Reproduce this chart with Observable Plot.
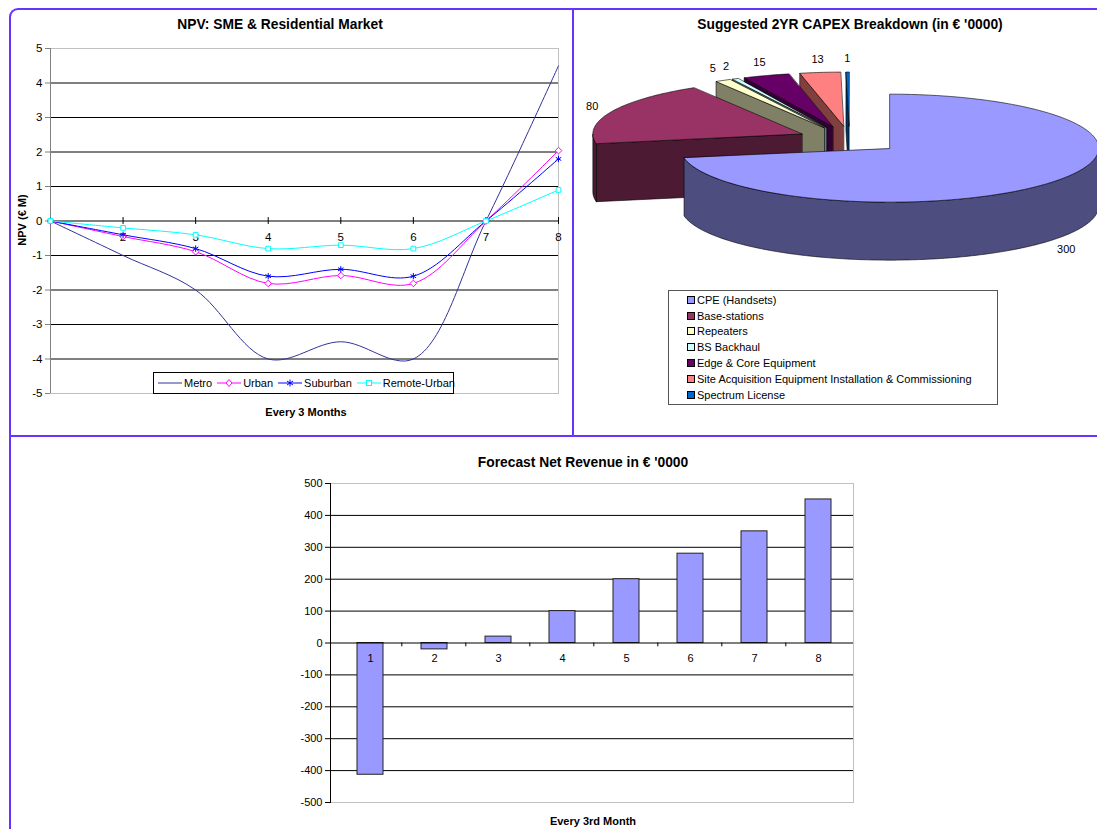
<!DOCTYPE html>
<html>
<head>
<meta charset="utf-8">
<script src="https://cdn.jsdelivr.net/npm/d3@7"></script>
<script src="https://cdn.jsdelivr.net/npm/@observablehq/plot@0.6"></script>
<style>
  html, body { margin: 0; padding: 0; background: #fff; }
  #root { position: relative; width: 1097px; height: 829px; overflow: hidden; background: #fff;
          font-family: "Liberation Sans", Arial, sans-serif; color: #000; }
  .abs { position: absolute; }
  .title { position: absolute; text-align: center; font-weight: bold; font-size: 13.8px; line-height: 16px; white-space: nowrap; }
  .axtitle { position: absolute; text-align: center; font-weight: bold; font-size: 11px; line-height: 14px; white-space: nowrap; }
  .legend1 { position: absolute; border: 1px solid #000; background: #fff; display: flex; align-items: center;
             font-size: 11px; box-sizing: border-box; padding-left: 4px; white-space: nowrap; }
  .legend1 .item { display: flex; align-items: center; margin-right: 5px; }
  .legend2 { position: absolute; border: 1px solid #555; background: #fff; box-sizing: border-box; font-size: 11px; padding-top: 1px; }
  .legend2 .row { display: flex; align-items: center; height: 15.8px; padding-left: 18px; }
  .legend2 .sw { width: 6px; height: 6px; border: 1px solid #000; margin-right: 2px; }
</style>
</head>
<body>
<div id="root">
  <div class="abs" style="left:9px;top:8px;width:1100px;height:830px;border-left:2px solid #6633ff;border-top:2px solid #6633ff;border-top-left-radius:9px;box-sizing:border-box;"></div>
  <div class="abs" style="left:572px;top:9px;width:2px;height:428px;background:#6633ff;"></div>
  <div class="abs" style="left:10px;top:435px;width:1090px;height:2px;background:#6633ff;"></div>

  <div class="title" style="left:130px;top:17px;width:300px;">NPV: SME &amp; Residential Market</div>
  <div class="title" style="left:650px;top:17px;width:400px;">Suggested 2YR CAPEX Breakdown (in € '0000)</div>
  <div class="title" style="left:433px;top:455px;width:300px;">Forecast Net Revenue in € '0000</div>
  <div class="axtitle" style="left:206px;top:405px;width:200px;">Every 3 Months</div>
  <div class="axtitle" style="left:493px;top:814px;width:200px;">Every 3rd Month</div>
  <div class="axtitle" style="left:-28px;top:213px;width:100px;transform:rotate(-90deg);">NPV (€ M)</div>

  <div id="npv" class="abs" style="left:0px;top:40px;"></div>
  <div id="pie" class="abs" style="left:575px;top:40px;"></div>
  <div id="bars" class="abs" style="left:270px;top:470px;"></div>
  <div id="legend1" class="legend1" style="left:153px;top:372px;width:301px;height:22px;"></div>
  <div id="legend2" class="legend2" style="left:668px;top:290px;width:330px;height:115px;"></div>
</div>
<script>
// ---------------- DATA ----------------
// NPV chart
const periods = [1, 2, 3, 4, 5, 6, 7, 8];
const seriesNames = ["Metro", "Urban", "Suburban", "Remote-Urban"];
const metro = [0, -1, -2, -4, -3.5, -4, 0, 4.5];
const urban = [0, -0.45, -0.89, -1.81, -1.58, -1.81, 0, 2.04];
const suburban = [0, -0.4, -0.8, -1.6, -1.4, -1.6, 0, 1.8];
const remoteUrban = [0, -0.2, -0.4, -0.8, -0.7, -0.8, 0, 0.9];
const npvTicks = [-5, -4, -3, -2, -1, 0, 1, 2, 3, 4, 5];

// CAPEX pie
const capexLabels = ["CPE (Handsets)", "Base-stations", "Repeaters", "BS Backhaul",
  "Edge & Core Equipment", "Site Acquisition Equipment Installation & Commissioning", "Spectrum License"];
const capexValues = [300, 80, 5, 2, 15, 13, 1];

// Net revenue bars
const revenuePeriods = ["1", "2", "3", "4", "5", "6", "7", "8"];
const netRevenue = [-413, -20, 20, 100, 200, 280, 350, 450];
const revenueTicks = [-500, -400, -300, -200, -100, 0, 100, 200, 300, 400, 500];

// ---------------- STYLES ----------------
const font = "'Liberation Sans', Arial, sans-serif";
const seriesStyle = {
  "Metro": {stroke: "#333399", symbol: null},
  "Urban": {stroke: "#ff00ff", symbol: "diamond2", fill: "#fff"},
  "Suburban": {stroke: "#0000ff", symbol: "asterisk", fill: "none"},
  "Remote-Urban": {stroke: "#00ffff", symbol: "square2", fill: "#fff"}
};
const capexColors = ["#9999ff", "#993366", "#ffffcc", "#ccffff", "#660066", "#ff8080", "#0066cc"];

// ---------------- NPV LINE CHART ----------------
const npvSeries = [metro, urban, suburban, remoteUrban];
const npvRows = [];
seriesNames.forEach((s, k) => periods.forEach((p, i) => npvRows.push({series: s, x: p, y: npvSeries[k][i]})));

const npvMarks = [
  Plot.frame({stroke: "#c0c0c0"}),
  Plot.ruleY(npvTicks.filter(v => v > -5 && v < 5 && v !== 0), {stroke: "#000", strokeWidth: 1}),
  Plot.ruleY([0], {stroke: "#000", strokeWidth: 1.2}),
  Plot.ruleX(periods.slice(1), {x: d => d, y1: -0.1, y2: 0.1, stroke: "#000"}),
  Plot.text(periods.slice(1), {x: d => d, y: 0, dy: 16, text: d => String(d), fontSize: 11.5}),
  Plot.ruleX([periods[0]], {stroke: "#808080"}),
  Plot.axisY({ticks: npvTicks, tickFormat: d => String(d), tickSize: 5, tickPadding: 3, fontSize: 11.5, label: null, stroke: "#808080"})
];
seriesNames.forEach(s => {
  const st = seriesStyle[s];
  const rows = npvRows.filter(r => r.series === s);
  npvMarks.push(Plot.line(rows, {x: "x", y: "y", stroke: st.stroke, strokeWidth: 1, curve: "catmull-rom"}));
});
seriesNames.forEach(s => {
  const st = seriesStyle[s];
  if (!st.symbol) return;
  const rows = npvRows.filter(r => r.series === s);
  npvMarks.push(Plot.dot(rows, {x: "x", y: "y", symbol: st.symbol, r: 3, stroke: st.stroke, fill: st.fill, strokeWidth: 1}));
});

const npvPlot = Plot.plot({
  width: 570, height: 380,
  marginTop: 8, marginBottom: 27, marginLeft: 50, marginRight: 12,
  x: {domain: [periods[0], periods[periods.length - 1]], axis: null},
  y: {domain: [-5, 5], axis: null},
  style: {fontFamily: font, fontSize: "11.5px", background: "transparent", color: "#000"},
  marks: npvMarks
});
document.getElementById("npv").append(npvPlot);

// legend 1
const leg1 = document.getElementById("legend1");
const symPaths = {
  "diamond2": '<path d="M12,1.5 L15,5 L12,8.5 L9,5 Z" fill="#fff" stroke="COLOR"/>',
  "asterisk": '<path d="M12,1.5 L12,8.5 M9,3 L15,7 M15,3 L9,7" stroke="COLOR"/>',
  "square2": '<rect x="9.5" y="2.5" width="5" height="5" fill="#fff" stroke="COLOR"/>'
};
seriesNames.forEach(s => {
  const st = seriesStyle[s];
  const sym = st.symbol ? symPaths[st.symbol].replace(/COLOR/g, st.stroke) : "";
  const item = document.createElement("div");
  item.className = "item";
  item.innerHTML = `<svg width="24" height="10" style="margin-right:2px"><line x1="0" x2="24" y1="5" y2="5" stroke="${st.stroke}" stroke-width="1"/>${sym}</svg><span>${s}</span>`;
  leg1.append(item);
});

// ---------------- CAPEX 3D PIE ----------------
const pieBox = {width: 522, height: 245, cx: 274, cy: 99, rx: 209, ry: 54, depth: 58, explode: 0.25};
const H = pieBox.depth / pieBox.ry;
const arcs = d3.pie().sort(null).value(d => d)(capexValues);
const slices = arcs.map((a, i) => {
  const m = (a.startAngle + a.endAngle) / 2;
  return {i, a0: a.startAngle, a1: a.endAngle, m, value: a.data,
          ox: pieBox.explode * Math.sin(m), oy: pieBox.explode * Math.cos(m)};
});
function rim(s, t, dz) { return {x: s.ox + Math.sin(t), y: s.oy + Math.cos(t) - dz}; }
function arcPts(s, a, b, dz) {
  const n = Math.max(2, Math.ceil((b - a) / (Math.PI / 180)) + 1);
  return d3.range(n).map(k => rim(s, a + (b - a) * k / (n - 1), dz));
}
function darker(c) { const r = d3.rgb(c); return d3.rgb(r.r * 0.5, r.g * 0.5, r.b * 0.5).formatHex(); }
const polys = [];
slices.slice().sort((p, q) => q.oy - p.oy).forEach(s => {
  const col = capexColors[s.i], side = darker(col);
  const ctop = {x: s.ox, y: s.oy}, cbot = {x: s.ox, y: s.oy - H};
  if (Math.sin(s.a0) < -1e-6) polys.push({fill: side, pts: [ctop, rim(s, s.a0, 0), rim(s, s.a0, H), cbot]});
  if (Math.sin(s.a1) > 1e-6) polys.push({fill: side, pts: [ctop, rim(s, s.a1, 0), rim(s, s.a1, H), cbot]});
  const b0 = Math.max(s.a0, Math.PI / 2), b1 = Math.min(s.a1, 3 * Math.PI / 2);
  if (b1 > b0) polys.push({fill: side, pts: [...arcPts(s, b0, b1, 0), ...arcPts(s, b0, b1, H).reverse()]});
  polys.push({fill: col, pts: [ctop, ...arcPts(s, s.a0, s.a1, 0)]});
});
const pieLabels = slices.map(s => ({
  text: String(s.value),
  x: s.ox + 1.1 * Math.sin(s.m),
  y: s.oy + 1.25 * Math.cos(s.m) - (Math.cos(s.m) < 0 ? H : 0)
}));
const piePlot = Plot.plot({
  width: pieBox.width, height: pieBox.height,
  margin: 0,
  x: {domain: [-pieBox.cx / pieBox.rx, (pieBox.width - pieBox.cx) / pieBox.rx], range: [0, pieBox.width], axis: null},
  y: {domain: [(pieBox.cy - pieBox.height) / pieBox.ry, pieBox.cy / pieBox.ry], range: [pieBox.height, 0], axis: null},
  style: {fontFamily: font, fontSize: "11px", background: "transparent", color: "#000", overflow: "visible"},
  marks: [
    ...polys.map(p => Plot.line(p.pts, {x: "x", y: "y", fill: p.fill, stroke: "#000", strokeWidth: 0.7, strokeOpacity: 0.85, curve: "linear-closed", strokeLinejoin: "round"})),
    Plot.text(pieLabels, {x: "x", y: "y", text: "text", fontSize: 11, fill: "#000"})
  ]
});
document.getElementById("pie").append(piePlot);

// legend 2
const leg2 = document.getElementById("legend2");
capexLabels.forEach((l, i) => {
  const row = document.createElement("div");
  row.className = "row";
  row.innerHTML = `<div class="sw" style="background:${capexColors[i]}"></div><span>${l.replace(/&/g, "&amp;")}</span>`;
  leg2.append(row);
});

// ---------------- NET REVENUE BARS ----------------
const revRows = revenuePeriods.map((p, i) => ({period: p, value: netRevenue[i]}));
const barW = 600, barML = 60, barMR = 17;
const stepPx = (barW - barML - barMR) / revenuePeriods.length;
const barsPlot = Plot.plot({
  width: barW, height: 345,
  marginTop: 13, marginBottom: 13, marginLeft: barML, marginRight: barMR,
  x: {type: "band", domain: revenuePeriods, paddingInner: 0.6, paddingOuter: 0.332, align: 0.547, axis: null},
  y: {domain: [-500, 500], axis: null},
  style: {fontFamily: font, fontSize: "11px", background: "transparent", color: "#000"},
  marks: [
    Plot.frame({stroke: "#c0c0c0"}),
    Plot.ruleY(revenueTicks.filter(v => v > -500 && v < 500 && v !== 0), {stroke: "#000"}),
    Plot.barY(revRows, {x: "period", y: "value", fill: "#9999ff", stroke: "#222", strokeWidth: 1}),
    Plot.ruleY([0], {stroke: "#000", strokeWidth: 1.2}),
    Plot.ruleX(revenuePeriods.slice(1), {x: d => d, y1: 0, y2: -12, dx: -stepPx / 2, stroke: "#000"}),
    Plot.text(revRows, {x: "period", y: 0, dy: 15, text: "period", fontSize: 11}),
    Plot.axisY({ticks: revenueTicks, tickFormat: d => String(d), tickSize: 5, tickPadding: 3, fontSize: 11, label: null}),
    Plot.frame({anchor: "left", stroke: "#000"})
  ]
});
document.getElementById("bars").append(barsPlot);
</script>
</body>
</html>
